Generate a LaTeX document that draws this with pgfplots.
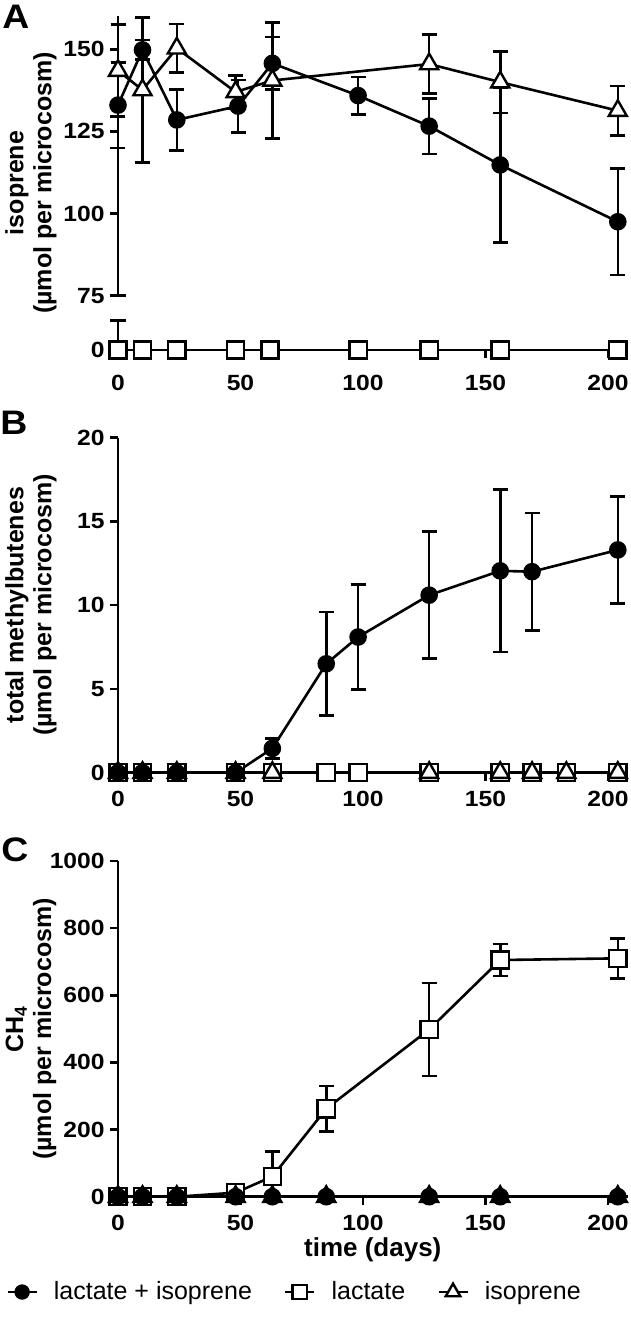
\documentclass[border=0pt]{standalone}
\usepackage{fontspec}
\setmainfont{Liberation Sans}
\newfontfamily\tickfont{Liberation Sans}[FakeStretch=1.12]
\newfontfamily\letterfont{Liberation Sans}[FakeStretch=1.1]
\usepackage{pgfplots}
\pgfplotsset{compat=1.18}
\begin{document}
\begin{tikzpicture}[x=1pt,y=1pt]
\useasboundingbox (0,0) rectangle (315.5,659.5);
\pgfplotsset{
  panel/.style={scale only axis, width=254.8pt, xmin=0, xmax=208, clip=false,
    axis line style={line width=1.3pt, black},
    tick style={line width=1.3pt, black},
    major tick length=4pt, tick align=outside,
    tick label style={font=\tickfont\bfseries\fontsize{11}{13}\selectfont},
    xticklabel style={inner sep=1pt, yshift=-4pt},
    yticklabel style={inner sep=1pt, xshift=-1.5pt},
    /pgf/number format/assume math mode=true,
    /pgf/number format/set thousands separator={},
    scaled y ticks=false,
    xtick={0,50,100,150,200},
    extra tick style={tick align=center, major tick length=7.5pt},
    every axis plot/.append style={line width=1.3pt, black},
  },
  circ/.style={mark=*, mark size=3.75pt, mark options={solid, fill=black}},
  sq/.style={mark=square*, mark size=4.3pt, mark options={solid, fill=white, line width=1.2pt}},
  tri/.style={mark=triangle*, mark size=5.2pt, mark options={solid, fill=white, line width=1.2pt}},
  eb/.style={error bars/y dir=both, error bars/y explicit,
    error bars/error mark options={rotate=90, mark size=3.75pt, line width=1.3pt, black},
    error bars/error bar style={line width=1.3pt, black}},
}
% ---------- Panel A (upper segment) ----------
\begin{axis}[panel, at={(59pt,511.65pt)}, anchor=south west, height=139.65pt,
  ymin=75, ymax=160, axis y line*=left, axis x line=none,
  ytick={75,100,125,150}, extra y ticks={75}, extra y tick labels={}]
\addplot[tri, eb] coordinates {
 (0,143.5) +- (0,14)
 (10,137.6) +- (0,22)
 (24,150.3) +- (0,7.4)
 (48,137) +- (0,5)
 (63,140.5) +- (0,17.7)
 (127,145.5) +- (0,9)
 (156,140) +- (0,9.4)
 (204,131.3) +- (0,7.5)
};
\addplot[circ, eb] coordinates {
 (0,133) +- (0,13)
 (10,149.8) +- (0,3)
 (24,128.5) +- (0,9.3)
 (49,132.7) +- (0,8)
 (63,145.7) +- (0,8)
 (98,135.9) +- (0,5.7)
 (127,126.6) +- (0,8.5)
 (156,114.8) +- (0,23.6)
 (204,97.5) +- (0,16.2)
};
\end{axis}
% ---------- Panel A (lower segment) ----------
\begin{axis}[panel, at={(59pt,484.5pt)}, anchor=south west, height=14.8pt,
  ymin=0, ymax=9, axis y line*=left, axis x line*=bottom,
  xticklabel style={yshift=-3.5pt},
  ytick={0}, extra y ticks={9}, extra y tick labels={}]
\addplot[sq] coordinates {(0,0) (10,0) (24,0) (48,0) (62,0) (98,0) (127,0) (156,0) (204,0)};
\end{axis}
% ---------- Panel B ----------
\begin{axis}[panel, at={(59pt,273.15pt)}, anchor=south west, height=167.5pt,
  ymin=0, ymax=20, axis y line*=left, axis x line*=bottom,
  ytick={0,5,10,15,20}]
\addplot[sq] coordinates {(0,0) (10,0) (24,0) (48,0) (63,0) (85,0) (98,0) (127,0) (156,0) (169,0) (183,0) (204,0)};
\addplot[tri] coordinates {(0,0) (10,0) (24,0) (48,0) (63,0) (127,0) (156,0) (169,0) (183,0) (204,0)};
\addplot[circ, eb] coordinates {
 (0,0) (10,0) (24,0) (48,0)
 (63,1.45) +- (0,0.6)
 (85,6.5) +- (0,3.1)
 (98,8.1) +- (0,3.15)
 (127,10.6) +- (0,3.8)
 (156,12.05) +- (0,4.85)
 (169,12.0) +- (0,3.5)
 (204,13.3) +- (0,3.2)
};
\end{axis}
% ---------- Panel C ----------
\begin{axis}[panel, at={(59pt,61.15pt)}, anchor=south west, height=167.85pt,
  ymin=0, ymax=1000, axis y line*=left, axis x line*=bottom,
  ytick={0,200,400,600,800,1000},
  xlabel={time (days)},
  xlabel style={font=\bfseries\fontsize{13}{15}\selectfont, yshift=1pt},
  legend columns=3,
  legend style={at={(-0.2317,-0.284)}, anchor=west, draw=none, fill=none,
    font=\fontsize{12.5}{14}\selectfont,
    /tikz/every even column/.append style={column sep=14pt},
    /tikz/every odd column/.append style={column sep=6pt}},
  legend image code/.code={\draw[mark repeat=2, mark phase=2, #1] plot coordinates {(0pt,0pt) (7.25pt,0pt) (14.5pt,0pt)};}]
\addlegendimage{line width=1.3pt, black, mark=*, mark size=3.2pt, mark options={solid, fill=black}}
\addlegendentry{lactate + isoprene}
\addlegendimage{line width=1.3pt, black, mark=square*, mark size=3.6pt, mark options={solid, fill=white, line width=1.2pt}}
\addlegendentry{lactate}
\addlegendimage{line width=1.3pt, black, mark=triangle*, mark size=4.2pt, mark options={solid, fill=white, line width=1.2pt}}
\addlegendentry{isoprene}
\addplot[sq, eb, forget plot] coordinates {
 (0,0) (10,0) (24,0) (48,12)
 (63,60) +- (0,74)
 (85,262) +- (0,68)
 (127,498) +- (0,138)
 (156,705) +- (0,48)
 (204,710) +- (0,60)
};
\addplot[tri, forget plot] coordinates {(0,0) (10,0) (24,0) (48,0) (63,0) (85,0) (127,0) (156,0) (204,0)};
\addplot[circ, forget plot] coordinates {(0,0) (10,0) (24,0) (48,0) (63,0) (85,0) (127,0) (156,0) (204,0)};
\end{axis}
% ---------- y labels and panel letters ----------
\begin{scope}[every node/.style={rotate=90, align=center, font=\bfseries\fontsize{12.5}{14}\selectfont}]
\node at (15.5,568) {isoprene\\(µmol per microcosm)};
\node at (15.5,357) {total methylbutenes\\(µmol per microcosm)};
\node at (15.5,145) {CH\textsubscript{4}\\(µmol per microcosm)};
\end{scope}
\begin{scope}[every node/.style={font=\letterfont\bfseries\fontsize{17}{19}\selectfont}]
\node at (8,651) {A};
\node at (7,448) {B};
\node at (7.5,234.5) {C};
\end{scope}
\end{tikzpicture}
\end{document}
